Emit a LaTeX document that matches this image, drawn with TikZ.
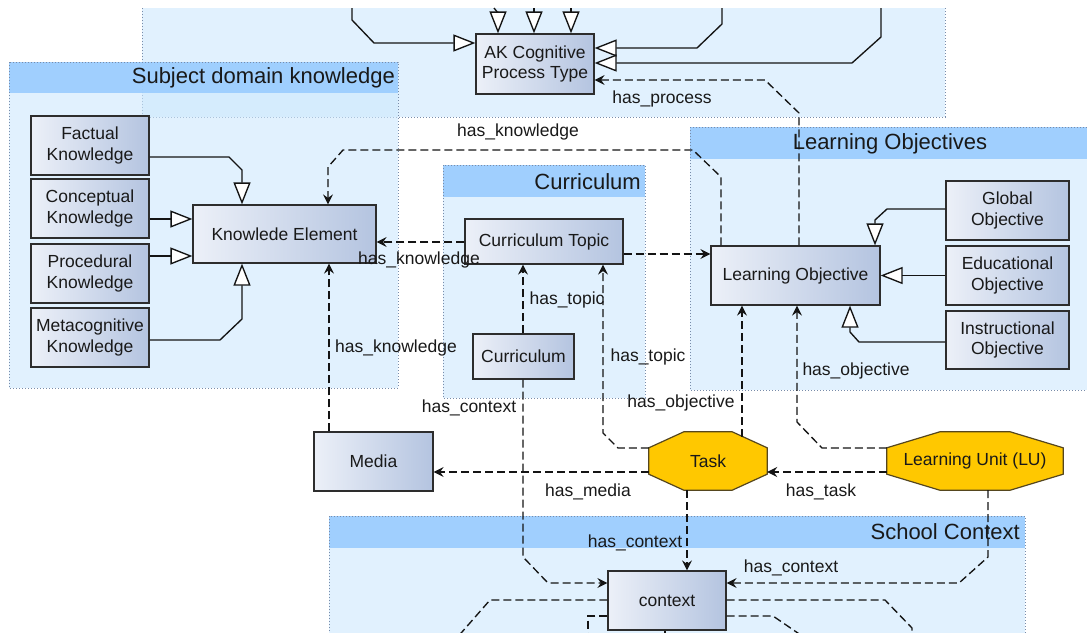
\documentclass[tikz,border=0pt]{standalone}
\usepackage{fontspec}
\setmainfont{Liberation Sans}
\usetikzlibrary{arrows.meta}
\pgfdeclarelayer{bg}
\pgfsetlayers{bg,main}
\definecolor{contfill}{RGB}{205,232,253}
\definecolor{headfill}{RGB}{153,204,255}
\definecolor{contborder}{RGB}{120,140,170}
\definecolor{boxlight}{RGB}{236,240,248}
\definecolor{boxdark}{RGB}{180,196,224}
\definecolor{boxborder}{RGB}{45,45,45}
\definecolor{octfill}{RGB}{255,200,0}
\definecolor{octborder}{RGB}{85,70,30}
\definecolor{txt}{RGB}{25,25,25}
\definecolor{lnc}{RGB}{20,20,20}
\newcommand{\octshape}[3]{%
  \begin{pgfonlayer}{bg}
  \draw[octo] ([xshift=#2]#1.north west) -- ([xshift=-#2]#1.north east) -- ([yshift=-#3]#1.north east)
    -- ([yshift=#3]#1.south east) -- ([xshift=-#2]#1.south east) -- ([xshift=#2]#1.south west)
    -- ([yshift=#3]#1.south west) -- ([yshift=-#3]#1.north west) -- cycle;
  \end{pgfonlayer}}
\begin{document}
\begin{tikzpicture}[x=1pt,y=-1pt,
  every node/.style={text=txt},
  cls/.style={draw=boxborder, line width=1.2pt, left color=boxlight, right color=boxdark, align=center, inner sep=0pt, font=\fontsize{17.5}{20.5}\selectfont},
  kb/.style={cls, minimum width=118pt, minimum height=59pt},
  octnode/.style={inner sep=0pt, font=\fontsize{17.5}{20.5}\selectfont, minimum height=58pt},
  octo/.style={fill=octfill, draw=octborder, line width=1.2pt, line join=miter},
  gen/.style={draw=lnc, line width=1.35pt, -{Triangle[length=22pt,width=17pt,fill=white]}},
  dep/.style={draw=lnc, line width=1.35pt, dash pattern=on 8pt off 4pt, -{Stealth[length=10pt,width=10pt,inset=3.5pt]}},
  dl/.style={draw=lnc, line width=1.35pt, dash pattern=on 8pt off 4pt},
  lbl/.style={inner sep=0pt, font=\fontsize{17.5}{20}\selectfont},
  ttl/.style={inner sep=0pt, font=\fontsize{22}{24}\selectfont},
  cont/.style={fill=contfill, fill opacity=0.6},
  head/.style={fill=headfill, fill opacity=0.9},
  cb/.style={draw=contborder, line width=0.8pt, dash pattern=on 1pt off 2pt}
]
\useasboundingbox (0,0) rectangle (1087,632);

% ---------- containers ----------
\begin{pgfonlayer}{bg}
\path[cont] (142,8) rectangle (945,117);
\draw[cb] (142,8) -- (142,117) -- (945,117) -- (945,8);
\path[cont] (9,62) rectangle (398,388);
\path[head] (9,62) rectangle (398,93);
\draw[cb] (9,62) rectangle (398,388);
\path[cont] (443,165) rectangle (645,398);
\path[head] (443,165) rectangle (645,197);
\draw[cb] (443,165) rectangle (645,398);
\path[cont] (690,127) rectangle (1095,390);
\path[head] (690,127) rectangle (1095,159);
\draw[cb] (690,127) rectangle (1095,390);
\path[cont] (329,516) rectangle (1025,640);
\path[head] (329,516) rectangle (1025,548);
\draw[cb] (329,640) -- (329,516) -- (1025,516) -- (1025,640);
\end{pgfonlayer}

\node[ttl, anchor=east] (tsd) at (395,78) {Subject domain knowledge};
\node[ttl, anchor=east] (tcu) at (641,182) {Curriculum};
\node[ttl] (tlo) at (890,144) {Learning Objectives};
\node[ttl, anchor=east] (tsc) at (1020,532) {School Context};

% ---------- nodes ----------
\node[kb, minimum height=60pt] (ak) at (535,64) {AK Cognitive\\Process Type};
\node[kb] (fk) at (90,145.5) {Factual\\Knowledge};
\node[kb] (ck) at (90,208.5) {Conceptual\\Knowledge};
\node[kb] (pk) at (90,273.5) {Procedural\\Knowledge};
\node[kb] (mk) at (90,337.5) {Metacognitive\\Knowledge};
\node[kb, minimum width=183pt, minimum height=58pt] (ke) at (284.5,234) {Knowlede Element};
\node[kb, minimum width=158pt, minimum height=45pt] (ct) at (544,241.5) {Curriculum Topic};
\node[kb, minimum width=101pt, minimum height=45pt] (cur) at (523.5,356.5) {Curriculum};
\node[kb, minimum width=169pt] (lo) at (795.5,275.5) {Learning Objective};
\node[kb, minimum width=123pt] (go) at (1007.5,210.5) {Global\\Objective};
\node[kb, minimum width=123pt] (eo) at (1007.5,275.5) {Educational\\Objective};
\node[kb, minimum width=123pt, minimum height=58pt] (io) at (1007.5,340) {Instructional\\Objective};
\node[kb, minimum width=119pt] (media) at (373.5,461.5) {Media};
\node[octnode, minimum width=118pt] (task) at (708,461) {Task};
\node[octnode, minimum width=176pt] (lu) at (975,461) {Learning Unit (LU)};
\node[kb] (ctx) at (667,600.5) {context};
\octshape{task}{35pt}{16pt}
\octshape{lu}{53pt}{16pt}

% ---------- free ends ----------
\coordinate (t0) at (352,8);
\coordinate (t1) at (494,8);
\coordinate (t2) at (534,8);
\coordinate (t3) at (571,8);
\coordinate (t4) at (722,8);
\coordinate (t5) at (881,8);
\coordinate (taskc) at (742,436.5);
\coordinate (b1) at (455,640);
\coordinate (b2) at (588,640);
\coordinate (b3) at (912,640);
\coordinate (b4) at (808,640);
\coordinate (b5) at (665,640);

% ---------- generalisations ----------
\draw[gen] (t0) -- (352,20) -- (374,43) -- (ak.west |- 0,43);
\draw[gen] (t1) -- (498,13) -- (ak.north -| 498,0);
\draw[gen] (t2) -- (ak.north -| 534,0);
\draw[gen] (t3) -- (ak.north -| 571,0);
\draw[gen] (t4) -- (722,24) -- (697,48) -- (ak.east |- 0,48);
\draw[gen] (t5) -- (881,37) -- (852,63) -- (ak.east |- 0,63);
\draw[gen] (fk.east |- 0,157) -- (229,157) -- (242,170) -- (ke.north -| 242,0);
\draw[gen] (ck.east |- 0,219) -- (ke.west |- 0,219);
\draw[gen] (pk.east |- 0,256) -- (ke.west |- 0,256);
\draw[gen] (mk.east |- 0,340) -- (220,340) -- (242,319) -- (ke.south -| 242,0);
\draw[gen] (go.west |- 0,209) -- (887,209) -- (875,220) -- (lo.north -| 875,0);
\draw[gen] (eo.west) -- (lo.east);
\draw[gen] (io.west |- 0,342) -- (859,342) -- (850,332) -- (lo.south -| 850,0);

% ---------- dependencies ----------
\draw[dep] (lo.north -| 799,0) -- (799,113) -- (765,80) -- (ak.east |- 0,80)
  node[lbl] at (662,99) {has\_process};
\draw[dep] (lo.north -| 721,0) -- (721,177) -- (693,150) -- (343,150) -- (328,167) -- (ke.north -| 328,0)
  node[lbl] at (518,132) {has\_knowledge};
\draw[dep] (ct.west |- 0,242) -- (ke.east |- 0,242)
  node[lbl] at (419,260) {has\_knowledge};
\draw[dep] (media.north -| 329,0) -- (ke.south -| 329,0)
  node[lbl] at (396,348) {has\_knowledge};
\draw[dep] (cur.north -| 523,0) -- (ct.south -| 523,0)
  node[lbl] at (567,300) {has\_topic};
\draw[dep] (task.west |- 0,448) -- (618,448) -- (603,433) -- (ct.south -| 603,0)
  node[lbl] at (648,357) {has\_topic};
\draw[dep] (ct.east |- 0,254) -- (lo.west |- 0,254);
\draw[dep] (taskc) -- (lo.south -| 742,0)
  node[lbl] at (681,403) {has\_objective};
\draw[dep] (lu.west |- 0,448) -- (822,448) -- (797,422) -- (lo.south -| 797,0)
  node[lbl] at (856,371) {has\_objective};
\draw[dep] (task.west |- 0,472) -- (media.east |- 0,472)
  node[lbl] at (588,492) {has\_media};
\draw[dep] (lu.west |- 0,472) -- (task.east |- 0,472)
  node[lbl] at (821,492) {has\_task};
\draw[dep] (task.south -| 687,0) -- (ctx.north -| 687,0)
  node[lbl] at (635,543) {has\_context};
\draw[dep] (cur.south -| 523,0) -- (523,557) -- (548,583) -- (ctx.west |- 0,583)
  node[lbl] at (469,408) {has\_context};
\draw[dep] (lu.south -| 988,0) -- (988,557) -- (959,583) -- (ctx.east |- 0,583)
  node[lbl] at (791,568) {has\_context};

% ---------- lines leaving the picture ----------
\draw[dl] (ctx.west |- 0,600) -- (490,600) -- (b1);
\draw[dl] (ctx.west |- 0,616) -- (588,616) -- (b2);
\draw[dl] (ctx.east |- 0,600) -- (885,600) -- (912,628) -- (b3);
\draw[dl] (ctx.east |- 0,616) -- (773,616) -- (b4);
\draw[draw=lnc, line width=1.35pt] (ctx.south -| 665,0) -- (b5);
\end{tikzpicture}
\end{document}
